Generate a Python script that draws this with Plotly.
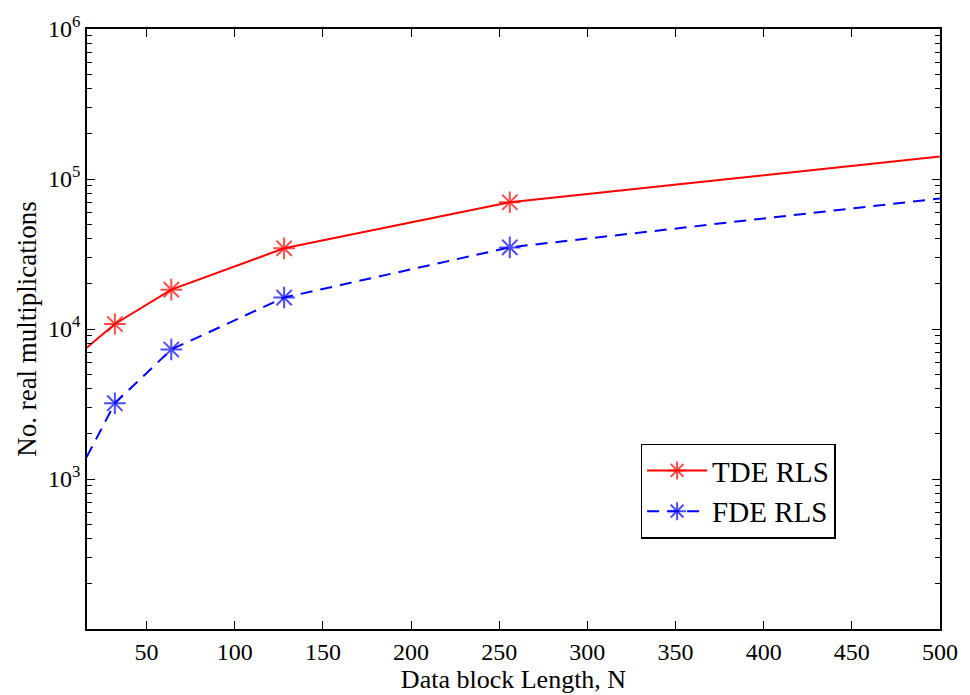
import plotly.graph_objects as go

N = [16, 32, 64, 128, 256, 512]
tde = [7500, 10800, 18300, 34500, 70000, 146000]
fde = [1400, 3200, 7300, 16200, 35000, 77000]
marker_sizes = [0, 18, 18, 18, 18, 18]

x_ticks = [50, 100, 150, 200, 250, 300, 350, 400, 450, 500]
y_ticks = [1e3, 1e4, 1e5, 1e6]
y_ticktext = ["10<sup>3</sup>", "10<sup>4</sup>", "10<sup>5</sup>", "10<sup>6</sup>"]
y_minor = [m * 10**e for e in range(2, 6) for m in range(2, 10)]

font = "Liberation Serif, Times New Roman, serif"

fig = go.Figure()
fig.add_trace(go.Scatter(
    x=N, y=tde, name="TDE RLS", mode="lines+markers",
    line=dict(color="#ff0000", width=2),
    marker=dict(symbol="asterisk-open", size=marker_sizes, color="#ff0000",
                line=dict(color="#ff0000", width=2)),
))
fig.add_trace(go.Scatter(
    x=N, y=fde, name="FDE RLS", mode="lines+markers",
    line=dict(color="#0000ff", width=2, dash="12px,8px"),
    marker=dict(symbol="asterisk-open", size=marker_sizes, color="#0000ff",
                line=dict(color="#0000ff", width=2)),
))

axis_common = dict(
    showline=True, linecolor="black", linewidth=1.5, mirror="ticks",
    ticks="inside", ticklen=8, tickwidth=1, tickcolor="black",
    showgrid=False, zeroline=False,
    tickfont=dict(family=font, size=24, color="black"),
)

fig.update_layout(
    width=970, height=695,
    margin=dict(l=87, r=23, t=26, b=63),
    paper_bgcolor="white", plot_bgcolor="white",
    font=dict(family=font, color="black"),
    xaxis=dict(range=[16.2, 500], tickmode="array", tickvals=x_ticks,
               title=dict(text="Data block Length, N", font=dict(family=font, size=26), standoff=0),
               **axis_common),
    yaxis=dict(type="log", range=[2, 6], tickmode="array", tickvals=y_ticks, ticktext=y_ticktext,
               minor=dict(tickmode="array", tickvals=y_minor, ticks="inside", ticklen=5,
                          tickcolor="black", tickwidth=1),
               title=dict(text="No. real multiplications", font=dict(family=font, size=27), standoff=4),
               **axis_common),
    legend=dict(x=0.649, y=0.309, xanchor="left", yanchor="top",
                bordercolor="black", borderwidth=1.5, bgcolor="white",
                font=dict(family=font, size=29), itemwidth=60,
                tracegroupgap=0),
    showlegend=True,
)

fig.write_html("out.html")
